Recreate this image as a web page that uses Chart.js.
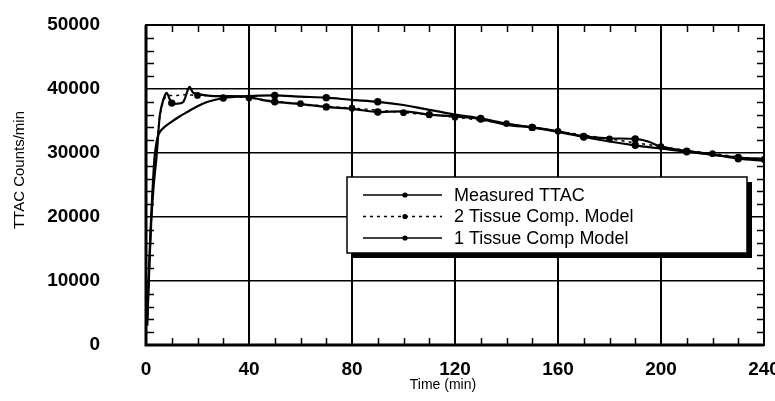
<!DOCTYPE html>
<html>
<head>
<meta charset="utf-8">
<script src="https://cdn.jsdelivr.net/npm/chart.js@4/dist/chart.umd.min.js"></script>
<style>
  html, body { margin: 0; padding: 0; background: #fff; }
  #wrap { width: 775px; height: 401px; position: relative; }
</style>
</head>
<body>
<div id="wrap"><canvas id="ttac"></canvas></div>
<script>
// time (min) and counts/min for each curve
const measuredTime = [0.5, 1, 2, 3, 4, 4.5, 5.4, 6.7, 8, 9, 10, 12, 14.5, 16.8, 18.4, 20, 26, 31, 39, 45, 50, 60, 70, 80, 90, 100, 110, 120, 130, 140, 150, 160, 170, 180, 190, 195, 200, 210, 220, 230, 240]
const measuredTTAC = [3000, 9000, 19000, 25000, 29000, 31500, 36000, 38300, 39400, 38600, 37800, 37700, 38000, 40300, 39400, 39200, 38900, 38900, 38800, 38300, 38000, 37650, 37200, 36900, 36400, 36500, 36000, 35700, 35300, 34400, 34000, 33400, 32600, 32300, 32200, 31800, 31000, 30300, 29800, 29100, 28800]

const twoTissueTime = [0.5, 1, 2, 3, 4, 5, 6, 7, 8, 10, 12, 15, 20, 30, 40, 50, 60, 70, 80, 90, 100, 110, 120, 130, 140, 150, 160, 170, 180, 190, 200, 210, 220, 230, 240]
const twoTissueModel = [3500, 9500, 19500, 26000, 30500, 34500, 37000, 38300, 38900, 39000, 39000, 39100, 39000, 38900, 38600, 38100, 37700, 37300, 37000, 36700, 36300, 36000, 35600, 35100, 34600, 34000, 33400, 32800, 32200, 31600, 31000, 30400, 29900, 29400, 29000]

const oneTissueTime = [0.5, 1, 2, 3, 3.5, 4.5, 5.4, 7, 9.3, 13, 16, 20, 24, 30, 35, 40, 50, 60, 70, 80, 90, 100, 108, 120, 130, 140, 150, 160, 170, 180, 190, 200, 210, 220, 230, 240]
const oneTissueModel = [4000, 10000, 20000, 27500, 30000, 32500, 33300, 34000, 34700, 35700, 36400, 37300, 38000, 38600, 38800, 38900, 39000, 38800, 38650, 38300, 38000, 37500, 36900, 36000, 35400, 34600, 34000, 33300, 32500, 31800, 31200, 30700, 30200, 29700, 29300, 29100]

const xTicks = [0, 40, 80, 120, 160, 200, 240]
const yTicks = [0, 10000, 20000, 30000, 40000, 50000]

const legendLabels = ['Measured TTAC', '2 Tissue Comp. Model', '1 Tissue Comp Model']

const toPoints = (ts, vs) => ts.map((t, i) => ({x: t, y: vs[i]}))

// a dot every 20 min, offset per curve so the markers don't pile up
const dotsEvery = (offset) => (c) => {
  const p = c.raw
  if (!p || p.x < 10) return 0
  return (p.x % 20 === offset) ? 2.6 : 0
}

const tickFont = {family: '"Liberation Sans", Arial, sans-serif', size: 19, weight: 'bold'}

const boxPlugin = {
  id: 'boxPlugin',
  afterDraw(chart) {
    const {ctx, chartArea: a, scales: {x, y}} = chart
    ctx.save()
    ctx.strokeStyle = '#000'
    ctx.fillStyle = '#000'

    // minor tick marks on all four sides
    ctx.lineWidth = 1.5
    ctx.beginPath()
    for (let t = 10; t < 240; t += 10) {
      if (t % 40 === 0) continue
      const px = Math.round(x.getPixelForValue(t)) + 0.5
      ctx.moveTo(px, a.bottom); ctx.lineTo(px, a.bottom - 7)
      ctx.moveTo(px, a.top); ctx.lineTo(px, a.top + 7)
    }
    for (let v = 2000; v < 50000; v += 2000) {
      if (v % 10000 === 0) continue
      const py = Math.round(y.getPixelForValue(v)) + 0.5
      ctx.moveTo(a.left, py); ctx.lineTo(a.left + 8, py)
      ctx.moveTo(a.right, py); ctx.lineTo(a.right - 7, py)
    }
    ctx.stroke()

    // frame
    ctx.lineWidth = 2
    ctx.strokeRect(a.left, a.top, a.right - a.left, a.bottom - a.top)
    ctx.lineWidth = 3
    ctx.beginPath()
    ctx.moveTo(a.left, a.top); ctx.lineTo(a.left, a.bottom); ctx.lineTo(a.right, a.bottom)
    ctx.stroke()

    // axis titles
    ctx.font = '14px "Liberation Sans", Arial, sans-serif'
    ctx.textAlign = 'center'
    ctx.textBaseline = 'middle'
    ctx.fillText('Time (min)', 443, 385)
    ctx.save()
    ctx.translate(20, 170)
    ctx.rotate(-Math.PI / 2)
    ctx.font = '15px "Liberation Sans", Arial, sans-serif'
    ctx.fillText('TTAC Counts/min', 0, 0)
    ctx.restore()

    // legend box with drop shadow
    const lx = 347, ly = 177, lw = 400, lh = 76
    ctx.fillRect(lx + 5, ly + 5, lw, lh)
    ctx.fillStyle = '#fff'
    ctx.fillRect(lx, ly, lw, lh)
    ctx.lineWidth = 1.5
    ctx.strokeRect(lx, ly, lw, lh)

    ctx.font = '18px "Liberation Sans", Arial, sans-serif'
    ctx.textAlign = 'left'
    ctx.fillStyle = '#000'
    chart.data.datasets.forEach((ds, i) => {
      const ry = ly + 18 + i * 21.5
      ctx.lineWidth = 1.5
      ctx.setLineDash(ds.borderDash || [])
      ctx.beginPath()
      ctx.moveTo(lx + 16, ry); ctx.lineTo(lx + 95, ry)
      ctx.stroke()
      ctx.setLineDash([])
      ctx.beginPath()
      ctx.arc(lx + 58, ry, 2.6, 0, Math.PI * 2)
      ctx.fill()
      ctx.fillText(legendLabels[i], lx + 107, ry + 1)
    })
    ctx.restore()
  }
}

new Chart(document.getElementById('ttac'), {
  type: 'line',
  data: {
    datasets: [
      {
        label: legendLabels[0],
        data: toPoints(measuredTime, measuredTTAC),
        borderColor: '#000', backgroundColor: '#000',
        borderWidth: 2.2,
        pointRadius: dotsEvery(10),
        tension: 0.3
      },
      {
        label: legendLabels[1],
        data: toPoints(twoTissueTime, twoTissueModel),
        borderColor: '#000', backgroundColor: '#000',
        borderWidth: 1.5,
        borderDash: [3, 4],
        pointRadius: dotsEvery(0),
        tension: 0.3
      },
      {
        label: legendLabels[2],
        data: toPoints(oneTissueTime, oneTissueModel),
        borderColor: '#000', backgroundColor: '#000',
        borderWidth: 2.2,
        pointRadius: dotsEvery(10),
        tension: 0.3
      }
    ]
  },
  options: {
    responsive: true,
    maintainAspectRatio: false,
    animation: false,
    layout: {padding: {top: 25, right: 11, left: 0, bottom: 0}},
    plugins: {legend: {display: false}, tooltip: {enabled: false}},
    scales: {
      x: {
        type: 'linear', min: 0, max: 240,
        afterBuildTicks: s => { s.ticks = xTicks.map(v => ({value: v})) },
        afterFit: s => { s.height = 56; s.paddingLeft = 0; s.paddingRight = 0 },
        border: {display: false},
        grid: {
          drawTicks: false,
          color: c => (c.tick && c.tick.value > 0 && c.tick.value < 240) ? '#000' : 'rgba(0,0,0,0)',
          lineWidth: 2
        },
        ticks: {
          padding: 13,
          color: '#000',
          callback: v => String(v),
          font: tickFont
        }
      },
      y: {
        min: 0, max: 50000,
        afterBuildTicks: s => { s.ticks = yTicks.map(v => ({value: v})) },
        afterFit: s => { s.width = 146; s.paddingTop = 0; s.paddingBottom = 0 },
        border: {display: false},
        grid: {
          drawTicks: false,
          color: c => (c.tick && c.tick.value > 0 && c.tick.value < 50000) ? '#000' : 'rgba(0,0,0,0)',
          lineWidth: 1.5
        },
        ticks: {
          padding: 46,
          color: '#000',
          callback: v => String(v),
          font: tickFont
        }
      }
    }
  },
  plugins: [boxPlugin]
})
</script>
</body>
</html>
